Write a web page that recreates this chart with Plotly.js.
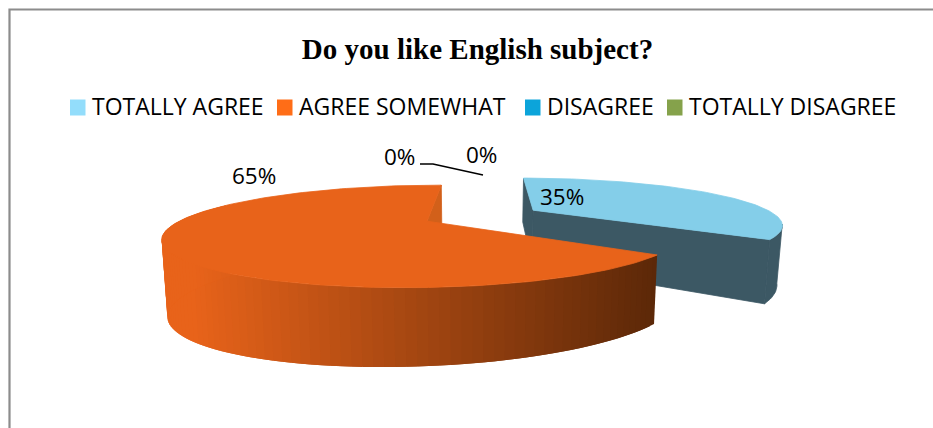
<!DOCTYPE html>
<html>
<head>
<meta charset="utf-8">
<script src="https://cdn.plot.ly/plotly-3.0.1.min.js"></script>
<style>html,body{margin:0;padding:0;background:#fff}#chart{width:933px;height:428px}</style>
</head>
<body>
<div id="chart"></div>
<script>
// Survey answers
const categories = ['TOTALLY AGREE', 'AGREE SOMEWHAT', 'DISAGREE', 'TOTALLY DISAGREE'];
const values = [35, 65, 0, 0];
const chartTitle = 'Do you like English subject?';

// Slice and legend colours
const swatchColors = ['#93DDFB', '#FF6D17', '#0CA4DA', '#85A24B'];
const topColors = ['#84CEE9', '#E8631A'];
const wallColor = '#3C5864';
const innerWallColor = '#D2601A';
const rimBright = [232, 99, 26];
const rimDark = [92, 40, 8];

// Legend placement along the row above the pie
const legendX = [70, 277, 525, 667];
const legendY = 107.5;

// Projection of the tilted pie onto the page
const view = {vx: 482, vy: 215.5, A: 243, B: 44.2, p: 0.291};
const explode = {x: 0.218, y: 0.124};
const sliceRadius = {outer: 1, main: 0.983};
const firstSliceAngle = 0.5;
const sliceDepth = [
  {a: 64, y0: 239, b: 0.33, c: 0},
  {a: 72.5, y0: 254, b: 0.15, c: -0.0205}
];

function project(X, Y) {
  const w = 1 + view.p * Y;
  return [view.vx + view.A * X / w, view.vy - view.B * Y / w];
}
function rimPoint(deg, dir, r) {
  const t = deg * Math.PI / 180;
  return project(r * Math.sin(t) + dir * explode.x, r * Math.cos(t) + dir * explode.y);
}
function apexPoint(dir) {
  return project(dir * explode.x, dir * explode.y);
}
function dropped(pt, i) {
  const d = sliceDepth[i];
  const dx = pt[0] - view.vx;
  return [view.vx + dx * 0.982, pt[1] + d.a + d.b * (pt[1] - d.y0) + d.c * dx];
}
function arc(from, to, dir, r) {
  const out = [];
  const n = Math.max(2, Math.ceil(Math.abs(to - from) / 1.5));
  for (let k = 0; k <= n; k++) out.push(rimPoint(from + (to - from) * k / n, dir, r));
  return out;
}
function polygon(points, color, width) {
  const closed = points.concat([points[0]]);
  return {
    type: 'scatter', mode: 'lines', fill: 'toself', fillcolor: color,
    x: closed.map(q => q[0]), y: closed.map(q => q[1]),
    line: {color: color, width: width === undefined ? 0.8 : width}, hoverinfo: 'skip', showlegend: false
  };
}
function quad(a, b, i) {
  return [a, b, dropped(b, i), dropped(a, i)];
}

// Cumulative angles, clockwise from twelve o'clock
const total = values.reduce((s, v) => s + v, 0);
const blueStart = firstSliceAngle;
const blueEnd = blueStart + values[0] / total * 360;
const orangeEnd = blueEnd + values[1] / total * 360;

const traces = [];

// Light-blue slice, pulled out towards the upper right
const blueApex = apexPoint(1);
traces.push(polygon(quad(rimPoint(blueStart, 1, sliceRadius.outer), blueApex, 0), wallColor));
traces.push(polygon(quad(blueApex, rimPoint(blueEnd, 1, sliceRadius.outer), 0), wallColor));
const blueRim = arc(108, blueEnd, 1, sliceRadius.outer);
traces.push(polygon(blueRim.concat(blueRim.slice().reverse().map(q => dropped(q, 0))), wallColor));
traces.push(polygon([blueApex].concat(arc(blueStart, blueEnd, 1, sliceRadius.outer)), topColors[0]));

// Orange slice: inner wall first, then the shaded outer wall, then its top
const orangeApex = apexPoint(-1);
traces.push(polygon(quad(rimPoint(orangeEnd, -1, sliceRadius.main), orangeApex, 1), innerWallColor));
const stripSpan = 292 - blueEnd;
const strips = 90;
const stripStep = stripSpan / strips;
for (let s = 0; s < strips; s++) {
  const d0 = blueEnd + stripStep * s;
  const d1 = d0 + stripStep;
  const a = rimPoint(d0, -1, sliceRadius.main), b = rimPoint(d1, -1, sliceRadius.main);
  const f = Math.min(1, Math.max(0, (656 - (a[0] + b[0]) / 2) / (656 - 190)));
  const c = rimDark.map((v, i) => Math.round(v + (rimBright[i] - v) * f));
  // Each strip reaches into the next one so no seam shows between them
  const over = s < strips - 1 ? rimPoint(d1 + stripStep, -1, sliceRadius.main) : b;
  traces.push(polygon(quad(a, over, 1), 'rgb(' + c.join(',') + ')', 0));
}
traces.push(polygon([orangeApex].concat(arc(blueEnd, orangeEnd, -1, sliceRadius.main)), topColors[1]));

// Leader line of the two empty slices
traces.push({
  type: 'scatter', mode: 'lines', x: [420, 433, 483], y: [164, 164, 175],
  line: {color: '#000', width: 1.6}, hoverinfo: 'skip', showlegend: false
});

// Legend swatches
categories.forEach((name, i) => {
  const x0 = legendX[i], y0 = legendY;
  traces.push(polygon([[x0, y0 - 8], [x0 + 15.5, y0 - 8], [x0 + 15.5, y0 + 8], [x0, y0 + 8]], swatchColors[i], 0));
});

const labelFont = {family: '"Open Sans", sans-serif', size: 22.5, color: '#000'};
const legendFont = {family: '"Open Sans", sans-serif', size: 23, color: '#000'};
const pct = v => Math.round(v / total * 100) + '%';
const annotations = categories.map((name, i) => ({
  x: legendX[i] + 21, y: legendY - 2, text: name, xanchor: 'left', yanchor: 'middle',
  showarrow: false, font: legendFont, xref: 'x', yref: 'y', borderpad: 0
}));
// Data labels
[[562, 196, values[0]], [254, 175, values[1]], [399, 156.5, values[2]], [481, 154.5, values[3]]].forEach(l => {
  annotations.push({
    x: l[0], y: l[1], text: pct(l[2]), xanchor: 'center', yanchor: 'middle',
    showarrow: false, font: labelFont, xref: 'x', yref: 'y'
  });
});

const layout = {
  width: 933, height: 428,
  margin: {l: 0, r: 0, t: 0, b: 0},
  paper_bgcolor: '#fff', plot_bgcolor: '#fff',
  showlegend: false,
  title: {
    text: '<b>' + chartTitle + '</b>', x: 0.5118, xanchor: 'center', y: 0.885, yanchor: 'middle',
    font: {family: '"Liberation Serif", serif', size: 29, color: '#000'}
  },
  xaxis: {visible: false, range: [0, 933], fixedrange: true},
  yaxis: {visible: false, range: [428, 0], fixedrange: true},
  annotations: annotations,
  shapes: [{
    type: 'path', path: 'M 9.5 428 L 9.5 9.5 L 933 9.5',
    xref: 'x', yref: 'y', line: {color: '#8C8C8C', width: 2.2}
  }]
};

Plotly.newPlot('chart', traces, layout, {displayModeBar: false, staticPlot: true});
</script>
</body>
</html>
